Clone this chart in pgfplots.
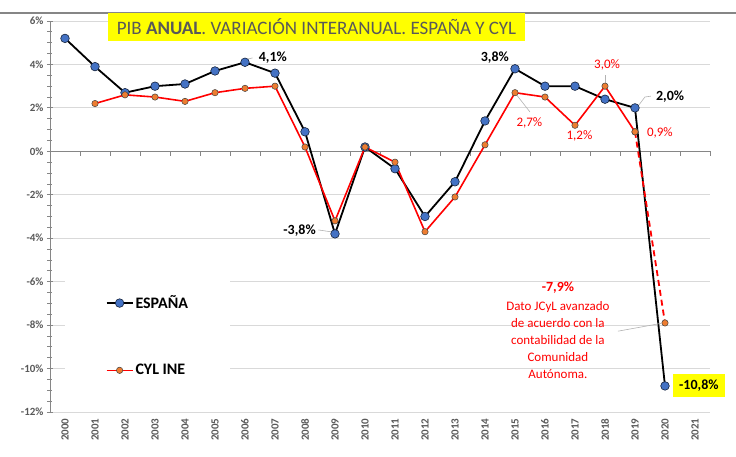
\documentclass[border=0pt]{standalone}
\usepackage{pgfplots}
\pgfplotsset{compat=1.18}
\usepackage{fontspec}
\setmainfont{Carlito}
\definecolor{blueM}{HTML}{4472C4}
\definecolor{orangeM}{HTML}{ED7D31}
\definecolor{tgray}{HTML}{595959}
\definecolor{agray}{HTML}{868686}
\definecolor{ggray}{HTML}{D9D9D9}
\definecolor{ylw}{HTML}{FFFF00}
\definecolor{rd}{HTML}{FF0000}
\begin{document}
\begin{tikzpicture}[x=1pt,y=1pt]
\draw[agray, line width=1.5pt] (0,443) -- (736,443);
\begin{axis}[
  at={(50pt,44pt)}, anchor=south west,
  scale only axis, width=660pt, height=391pt,
  xmin=-0.5, xmax=21.5, ymin=-12, ymax=6,
  axis lines*=left,
  x axis line style={draw=none},
  y axis line style={draw=agray, line width=0.8pt},
  xtick={0,...,21},
  xticklabels={2000,2001,2002,2003,2004,2005,2006,2007,2008,2009,2010,2011,2012,2013,2014,2015,2016,2017,2018,2019,2020,2021},
  major x tick style={draw=none},
  xticklabel style={rotate=90, anchor=east, font=\fontsize{11}{13}\selectfont\bfseries, text=tgray},
  ytick={-12,-10,...,6},
  yticklabels={-12\%,-10\%,-8\%,-6\%,-4\%,-2\%,0\%,2\%,4\%,6\%},
  yticklabel style={font=\fontsize{11}{13}\selectfont\bfseries, text=tgray},
  minor y tick num=3,
  tick align=center,
  major tick length=6pt, minor tick length=5pt,
  every tick/.style={agray, line width=0.8pt},
  ymajorgrids, grid style={ggray, line width=1pt},
  legend style={at={(axis cs:1.35,-6.55)}, anchor=north west, draw=none, fill=none,
    font=\fontsize{16}{19}\selectfont\bfseries, row sep=50pt, inner sep=0pt,
    nodes={inner sep=2pt}},
  legend cell align=left,
  legend image code/.code={\draw[mark repeat=2,mark phase=2,#1] plot coordinates {(0pt,0pt)(13pt,0pt)(26pt,0pt)};},
  clip=false,
]
\fill[white] (axis cs:0,-5.6) rectangle (axis cs:5.5,-11.3);
\draw[agray, line width=1pt] (axis cs:-0.5,0) -- (axis cs:21.5,0);
\pgfplotsinvokeforeach{-0.5,0.5,...,21.5}{\draw[agray, line width=0.8pt] (axis cs:#1,0) -- (axis cs:#1,-0.22);}
\addplot[black, line width=1.8pt, mark=*, mark size=4.3pt, mark options={fill=blueM, draw=black!70!blueM, line width=0.6pt}]
coordinates {(0,5.2)(1,3.9)(2,2.7)(3,3.0)(4,3.1)(5,3.7)(6,4.1)(7,3.6)(8,0.9)(9,-3.8)(10,0.2)(11,-0.8)(12,-3.0)(13,-1.4)(14,1.4)(15,3.8)(16,3.0)(17,3.0)(18,2.4)(19,2.0)(20,-10.8)};
\addlegendentry{ESPAÑA}
\addplot[rd, line width=1.6pt, mark=*, mark size=3.2pt, mark options={fill=orangeM, draw=black!75, line width=0.5pt, solid}]
coordinates {(1,2.2)(2,2.6)(3,2.5)(4,2.3)(5,2.7)(6,2.9)(7,3.0)(8,0.2)(9,-3.2)(10,0.2)(11,-0.5)(12,-3.7)(13,-2.1)(14,0.3)(15,2.7)(16,2.5)(17,1.2)(18,3.0)(19,0.9)};
\addlegendentry{CYL INE}
\addplot[rd, line width=1.8pt, dash pattern=on 6pt off 4pt, mark=*, mark size=3.2pt, mark options={fill=orangeM, draw=black!75, line width=0.5pt, solid}, forget plot]
coordinates {(19,0.9)(20,-7.9)};
% leader lines
\draw[gray!60, line width=0.6pt] (axis cs:5.95,4.2) -- (axis cs:6.25,4.3);
\draw[gray!60, line width=0.6pt] (axis cs:8.45,-3.62) -- (axis cs:8.9,-3.71);
\draw[gray!60, line width=0.6pt] (axis cs:19.1,2.08) -- (axis cs:19.33,2.5) -- (axis cs:19.53,2.54);
\draw[gray!60, line width=0.6pt] (axis cs:15.03,2.64) -- (axis cs:15.5,1.81);
\draw[gray!60, line width=0.6pt] (axis cs:18.0,3.5) -- (axis cs:18.0,3.14);
\draw[gray!60, line width=0.6pt] (axis cs:18.43,-8.28) -- (axis cs:19.87,-7.92);
% labels
\node[font=\fontsize{14}{16}\selectfont\bfseries] at (axis cs:6.93,4.30) {4,1\%};
\node[font=\fontsize{14}{16}\selectfont\bfseries] at (axis cs:14.33,4.33) {3,8\%};
\node[font=\fontsize{14}{16}\selectfont\bfseries] at (axis cs:20.17,2.54) {2,0\%};
\node[font=\fontsize{14}{16}\selectfont\bfseries] at (axis cs:7.82,-3.67) {-3,8\%};
\node[font=\fontsize{13}{15}\selectfont, text=rd] at (axis cs:15.48,1.32) {2,7\%};
\node[font=\fontsize{13}{15}\selectfont, text=rd] at (axis cs:17.15,0.70) {1,2\%};
\node[font=\fontsize{13}{15}\selectfont, text=rd] at (axis cs:18.07,3.97) {3,0\%};
\node[font=\fontsize{13}{15}\selectfont, text=rd] at (axis cs:19.83,0.84) {0,9\%};
\node[font=\fontsize{14}{16}\selectfont\bfseries, text=rd] at (axis cs:16.43,-6.29) {-7,9\%};
\node[font=\fontsize{13}{17}\selectfont, text=rd, align=center] at (axis cs:16.43,-8.69) {Dato JCyL avanzado\\de acuerdo con la\\contabilidad de la\\Comunidad\\Autónoma.};
\node[font=\fontsize{14}{16}\selectfont\bfseries, fill=ylw, minimum width=52pt, minimum height=23pt, inner sep=0pt] at (axis cs:21.13,-10.78) {-10,8\%};
\end{axis}
\node[fill=ylw, minimum width=417pt, minimum height=28pt, inner sep=0pt, text=tgray, font=\fontsize{19}{22}\selectfont] at (316.5,429) {PIB \textbf{ANUAL}. VARIACIÓN INTERANUAL. ESPAÑA Y CYL};
\pgfresetboundingbox
\path (0,0) rectangle (736,456);
\end{tikzpicture}
\end{document}
